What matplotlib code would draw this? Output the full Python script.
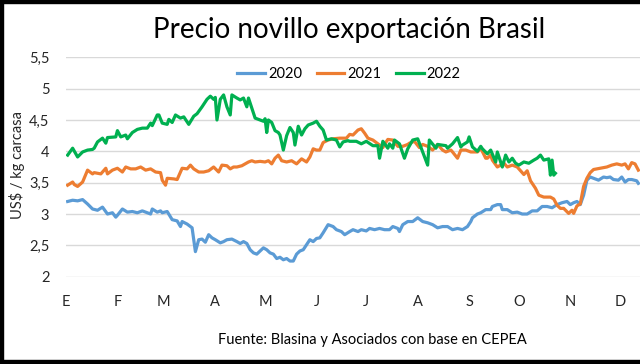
import matplotlib
matplotlib.use("Agg")
import matplotlib.pyplot as plt
from matplotlib.patches import Rectangle

plt.rcParams['font.family'] = ['Lato', 'DejaVu Sans']

title = "Precio novillo exportación Brasil"
ylabel = "US$ / kg carcasa"
source = "Fuente: Blasina y Asociados con base en CEPEA"
month_labels = ["E", "F", "M", "A", "M", "J", "J", "A", "S", "O", "N", "D"]
month_start_days = [0, 31, 59, 90, 120, 151, 181, 212, 243, 273, 304, 334]
ytick_vals = [2, 2.5, 3, 3.5, 4, 4.5, 5, 5.5]
ytick_labels = ["2", "2,5", "3", "3,5", "4", "4,5", "5", "5,5"]

days_2020 = [1, 4, 7, 10, 13, 16, 19, 22, 25, 28, 30, 31, 34, 37, 40, 43, 46, 49, 51, 52,
             55, 57, 58, 61, 64, 67, 69, 70, 73, 76, 78, 80, 82, 84, 86, 88, 90, 93, 95, 97,
             100, 103, 105, 107, 109, 111, 113, 115, 117, 119, 121, 123, 125, 127, 129, 131, 133, 135, 137, 139,
             141, 143, 145, 147, 149, 151, 153, 155, 158, 161, 163, 166, 168, 171, 173, 176, 178, 181, 183, 186,
             189, 192, 195, 197, 200, 201, 203, 206, 209, 212, 215, 218, 221, 224, 227, 230, 233, 236, 239, 242,
             244, 245, 248, 250, 253, 256, 257, 260, 262, 263, 266, 269, 272, 275, 278, 281, 284, 287, 290, 293,
             296, 299, 302, 304, 306, 308, 310, 312, 314, 316, 318, 321, 324, 326, 328, 330, 333, 335, 337, 339,
             341, 344, 345]
vals_2020 = [3.20, 3.22, 3.21, 3.23, 3.16, 3.08, 3.06, 3.11, 3.00, 3.02, 2.95, 2.98, 3.08, 3.03, 3.04, 3.02, 3.05, 3.02, 3.00, 3.08,
             3.03, 3.05, 3.02, 3.04, 2.91, 2.89, 2.80, 2.88, 2.84, 2.78, 2.40, 2.59, 2.60, 2.55, 2.67, 2.62, 2.59, 2.54, 2.56, 2.59,
             2.60, 2.56, 2.53, 2.56, 2.53, 2.43, 2.38, 2.36, 2.41, 2.46, 2.43, 2.38, 2.36, 2.29, 2.31, 2.27, 2.29, 2.25, 2.25, 2.36,
             2.41, 2.43, 2.51, 2.59, 2.56, 2.61, 2.62, 2.70, 2.83, 2.80, 2.75, 2.72, 2.67, 2.72, 2.75, 2.72, 2.75, 2.73, 2.77, 2.75,
             2.77, 2.75, 2.75, 2.80, 2.77, 2.72, 2.83, 2.88, 2.88, 2.94, 2.88, 2.86, 2.83, 2.78, 2.80, 2.80, 2.75, 2.77, 2.75, 2.80,
             2.88, 2.94, 3.00, 3.02, 3.07, 3.07, 3.12, 3.15, 3.15, 3.07, 3.07, 3.02, 3.03, 3.00, 3.00, 3.05, 3.05, 3.12, 3.12, 3.10,
             3.15, 3.18, 3.20, 3.15, 3.18, 3.20, 3.15, 3.30, 3.54, 3.59, 3.57, 3.54, 3.59, 3.58, 3.59, 3.55, 3.54, 3.59, 3.51, 3.55,
             3.55, 3.53, 3.49]

days_2021 = [1, 4, 5, 7, 10, 13, 16, 17, 21, 24, 25, 28, 31, 34, 36, 39, 42, 45, 48, 51,
             54, 57, 58, 60, 61, 65, 67, 70, 73, 75, 77, 80, 83, 86, 89, 92, 94, 97, 99, 101,
             103, 106, 108, 110, 112, 114, 117, 120, 122, 124, 126, 128, 130, 133, 136, 139, 142, 145, 147, 149,
             151, 153, 155, 158, 161, 165, 169, 171, 173, 176, 178, 180, 182, 185, 188, 191, 192, 194, 197, 200,
             203, 206, 207, 210, 213, 215, 218, 221, 224, 227, 229, 232, 233, 236, 238, 241, 244, 248, 250, 253,
             254, 256, 257, 260, 264, 266, 269, 272, 274, 276, 278, 280, 283, 285, 288, 292, 294, 296, 298, 300,
             303, 305, 306, 308, 310, 312, 314, 316, 318, 322, 326, 329, 332, 335, 337, 339, 341, 343, 345]
vals_2021 = [3.46, 3.51, 3.47, 3.44, 3.51, 3.70, 3.64, 3.66, 3.64, 3.73, 3.64, 3.70, 3.73, 3.67, 3.75, 3.72, 3.72, 3.75, 3.70, 3.72,
             3.67, 3.66, 3.54, 3.46, 3.57, 3.56, 3.55, 3.73, 3.72, 3.78, 3.72, 3.67, 3.67, 3.69, 3.75, 3.67, 3.78, 3.77, 3.72, 3.75,
             3.75, 3.77, 3.80, 3.83, 3.85, 3.83, 3.84, 3.83, 3.85, 3.80, 3.89, 3.94, 3.85, 3.83, 3.85, 3.80, 3.88, 3.83, 3.91, 4.04,
             4.02, 4.02, 4.14, 4.18, 4.20, 4.21, 4.21, 4.27, 4.26, 4.34, 4.36, 4.29, 4.21, 4.18, 4.12, 4.06, 4.11, 4.19, 4.18, 4.08,
             4.08, 4.11, 4.13, 4.16, 4.06, 4.11, 4.08, 4.02, 4.11, 4.02, 3.99, 4.02, 3.99, 3.89, 4.02, 4.02, 3.99, 3.99, 4.05, 3.89,
             3.89, 3.94, 3.86, 3.75, 3.81, 3.75, 3.78, 3.75, 3.69, 3.63, 3.69, 3.53, 3.41, 3.30, 3.27, 3.27, 3.24, 3.14, 3.09, 3.09,
             3.01, 3.06, 3.01, 3.13, 3.16, 3.44, 3.57, 3.66, 3.71, 3.73, 3.75, 3.78, 3.80, 3.78, 3.80, 3.72, 3.82, 3.80, 3.70]

days_2022 = [1, 4, 7, 10, 13, 16, 17, 19, 22, 24, 25, 30, 31, 33, 36, 37, 40, 43, 46, 49,
             51, 52, 55, 56, 58, 61, 62, 64, 66, 69, 71, 74, 77, 79, 82, 85, 87, 89, 90, 91,
             93, 95, 97, 99, 100, 103, 105, 107, 109, 110, 112, 114, 117, 119, 120, 121, 122, 124, 126, 128,
             129, 131, 133, 135, 137, 138, 140, 142, 144, 146, 149, 151, 153, 155, 157, 160, 163, 165, 167, 170,
             171, 175, 178, 181, 185, 188, 189, 191, 194, 195, 197, 198, 201, 204, 206, 209, 212, 215, 218, 219,
             223, 224, 229, 230, 233, 236, 238, 239, 242, 243, 245, 248, 250, 251, 254, 256, 259, 260, 263, 265,
             267, 269, 271, 273, 276, 279, 282, 284, 286, 288, 291, 292, 293, 294, 295]
vals_2022 = [3.94, 4.05, 3.91, 3.99, 4.02, 4.03, 4.05, 4.15, 4.21, 4.13, 4.22, 4.23, 4.33, 4.23, 4.26, 4.20, 4.30, 4.35, 4.37, 4.37,
             4.45, 4.41, 4.58, 4.58, 4.45, 4.43, 4.51, 4.46, 4.58, 4.53, 4.55, 4.43, 4.56, 4.60, 4.71, 4.83, 4.88, 4.83, 4.86, 4.50,
             4.83, 4.90, 4.71, 4.58, 4.90, 4.85, 4.82, 4.85, 4.71, 4.85, 4.69, 4.53, 4.50, 4.48, 4.52, 4.30, 4.50, 4.46, 4.33, 4.30,
             4.26, 4.02, 4.25, 4.38, 4.30, 4.10, 4.40, 4.26, 4.36, 4.42, 4.45, 4.48, 4.40, 4.34, 4.18, 4.20, 4.18, 4.07, 4.15, 4.17,
             4.16, 4.16, 4.12, 4.16, 4.09, 4.09, 3.89, 4.16, 4.05, 4.12, 4.05, 4.18, 4.12, 3.89, 4.04, 4.18, 4.20, 3.99, 3.78, 4.18,
             4.05, 4.11, 4.09, 4.05, 4.12, 4.22, 4.07, 4.10, 4.15, 4.23, 4.07, 4.00, 4.08, 4.04, 3.96, 4.02, 3.83, 3.99, 3.75, 3.94,
             3.83, 3.89, 3.81, 3.78, 3.83, 3.81, 3.86, 3.89, 3.94, 3.86, 3.88, 3.62, 3.86, 3.62, 3.65]

series = [("2020", days_2020, vals_2020, "#5B9BD5"),
          ("2021", days_2021, vals_2021, "#ED7D31"),
          ("2022", days_2022, vals_2022, "#00B050")]

fig = plt.figure(figsize=(6.4, 3.64), dpi=100)
fig.patch.set_facecolor("white")
ax = fig.add_axes([66/640, 1-276.7/364, 1-66/640, (276.7-57.3)/364])

for name, d, v, c in series:
    ax.plot(d, v, color=c, lw=2.3, label=name, solid_joinstyle="round")

ax.set_xlim(0, 346)
ax.set_ylim(2, 5.5)
ax.set_yticks(ytick_vals)
ax.set_yticklabels(ytick_labels, fontsize=10.5)
ax.set_xticks(month_start_days)
ax.set_xticklabels(month_labels, fontsize=10.5)
ax.tick_params(axis="both", length=0, colors="#262626")
ax.tick_params(axis="y", pad=12)
ax.tick_params(axis="x", pad=13)
ax.grid(axis="y", color="#d9d9d9", lw=1)
ax.set_axisbelow(True)
for s in ax.spines.values():
    s.set_visible(False)

fig.text(17/640, 1-165/364, ylabel, rotation=90, ha="center", va="center", fontsize=10.5, color="#262626")
fig.text(349/640, 1-38.3/364, title, ha="center", va="baseline", fontsize=20, color="black")
fig.text(372/640, 1-340/364, source, ha="center", va="center", fontsize=10.5, color="black")

fig.legend(loc="center", bbox_to_anchor=(349/640, 1-74/364), ncol=3, frameon=False,
           fontsize=10.5, handlelength=1.9, handletextpad=0.2, columnspacing=1.0)

# black frame (left, top, bottom)
fig.patches.append(Rectangle((0, 0), 3/640, 1, transform=fig.transFigure, color="black", zorder=10))
fig.patches.append(Rectangle((0, 1-3/364), 1, 3/364, transform=fig.transFigure, color="black", zorder=10))
fig.patches.append(Rectangle((0, 0), 1, 4/364, transform=fig.transFigure, color="black", zorder=10))

fig.savefig("out.png", dpi=100)
